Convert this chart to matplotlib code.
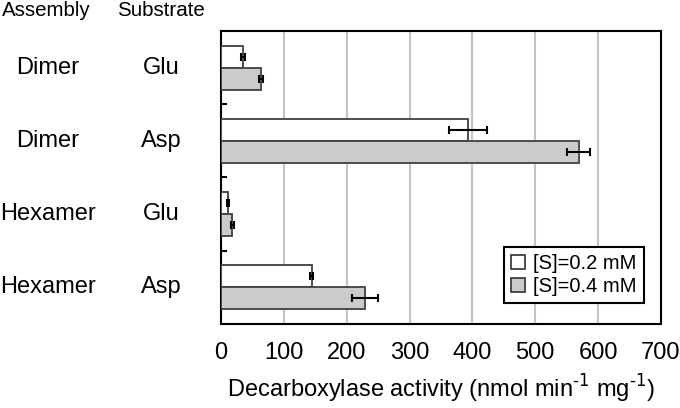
import matplotlib
matplotlib.use("Agg")
import matplotlib.pyplot as plt
import matplotlib.transforms as mtransforms
import numpy as np

plt.rcParams['font.family'] = ['Liberation Sans', 'DejaVu Sans']

assembly = ["Dimer", "Dimer", "Hexamer", "Hexamer"]
substrate = ["Glu", "Asp", "Glu", "Asp"]
act_02 = [35, 393, 11, 144]
err_02 = [3, 31, 2, 3]
act_04 = [64, 569, 18, 229]
err_04 = [3, 18, 2, 20]

fig = plt.figure(figsize=(6.8, 4.08), dpi=100)
ax = fig.add_axes([0.325, 0.206, 0.647, 0.718])

y = np.arange(len(assembly))
h = 0.3
ebar = dict(ecolor='black', elinewidth=1.5, capsize=3, capthick=1.5)
ax.barh(y - h / 2, act_02, height=h, xerr=err_02, color='white',
        edgecolor='#404040', linewidth=1.3, error_kw=ebar, label='[S]=0.2 mM', zorder=3)
ax.barh(y + h / 2, act_04, height=h, xerr=err_04, color='#cbcbcb',
        edgecolor='#404040', linewidth=1.3, error_kw=ebar, label='[S]=0.4 mM', zorder=3)

ax.set_xlim(0, 700)
ax.set_ylim(3.5, -0.5)
ax.set_xticks(np.arange(0, 701, 100))
ax.tick_params(axis='x', length=0, pad=13, labelsize=17)
ax.set_yticks([0.5, 1.5, 2.5])
ax.set_yticklabels([])
ax.tick_params(axis='y', direction='in', length=4.5, width=1.5)
ax.grid(axis='x', color='#c4c4c4', linewidth=1.5, zorder=0)
for s in ax.spines.values():
    s.set_linewidth(1.5)
ax.set_xlabel(r'Decarboxylase activity (nmol min$^{\text{-1}}$ mg$^{\text{-1}}$)',
              fontsize=17, labelpad=6)

leg = ax.legend(loc='lower right', bbox_to_anchor=(0.961, 0.072), borderaxespad=0,
                fontsize=14.5, fancybox=False, edgecolor='black', framealpha=1,
                handlelength=0.7, handleheight=0.7, handletextpad=0.4,
                borderpad=0.35, labelspacing=0.2)
leg.get_frame().set_linewidth(1.5)

trans = mtransforms.blended_transform_factory(fig.transFigure, ax.transData)
for i in range(len(assembly)):
    fig.text(48 / 680, y[i], assembly[i], transform=trans, ha='center', va='center', fontsize=17)
    fig.text(161 / 680, y[i], substrate[i], transform=trans, ha='center', va='center', fontsize=17)
fig.text(46 / 680, 1 - 11 / 408, 'Assembly', ha='center', va='center', fontsize=14.8)
fig.text(161 / 680, 1 - 11 / 408, 'Substrate', ha='center', va='center', fontsize=14.8)

fig.savefig('out.png', dpi=100)
